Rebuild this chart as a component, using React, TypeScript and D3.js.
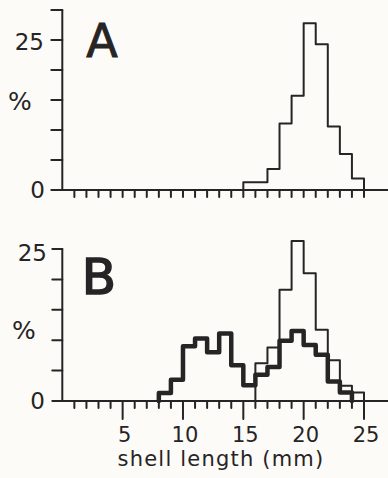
import { useMemo } from "react";
import * as d3 from "d3";

// ---------------------------------------------------------------------------
// Data (shell length histograms, % per 1 mm class)
// ---------------------------------------------------------------------------

// Panel A: first bin edge in mm, then % per 1 mm bin
const A_START = 15;
const A_PCT = [1.3, 1.3, 3.5, 11.1, 15.7, 27.8, 24.3, 10.6, 6.0, 1.9];

// Panel B thin line
const B_THIN_START = 16;
const B_THIN_PCT = [6.2, 8.8, 18.3, 26.3, 21.0, 11.7, 6.7, 2.5, 1.4];

// Panel B thick line
const B_THICK_START = 8;
const B_THICK_PCT = [
  1.3, 3.5, 9.0, 10.3, 8.0, 11.1, 5.9, 2.6, 4.3, 5.6, 9.9, 11.5, 9.2, 7.6, 3.2,
  1.4,
];

const X_TICKS_MINOR = d3.range(1, 26);
const X_TICK_LABELS = [5, 10, 15, 20, 25];
const A_Y_TICKS = [0, 5, 10, 15, 20, 25, 30];
const B_Y_TICKS = [0, 5, 10, 15, 20, 25];

// ---------------------------------------------------------------------------
// Style
// ---------------------------------------------------------------------------

const INK = "#262424";
const BG = "#fdfbf8";
const FONT = "'DejaVu Sans', Verdana, sans-serif";
const W = 388;
const H = 478;

type Pt = { x: number; y: number };

function binsToPoints(start: number, pct: number[]): Pt[] {
  const pts: Pt[] = [{ x: start, y: 0 }];
  pct.forEach((v, i) => pts.push({ x: start + i, y: v }));
  pts.push({ x: start + pct.length, y: 0 });
  return pts;
}

export default function App() {
  const x = useMemo(() => d3.scaleLinear().domain([0, 25]).range([62.3, 364]), []);
  const yA = useMemo(() => d3.scaleLinear().domain([0, 30]).range([190, 10]), []);
  const yB = useMemo(() => d3.scaleLinear().domain([0, 25]).range([401, 249]), []);

  const stepA = d3
    .line<Pt>()
    .x((d) => x(d.x))
    .y((d) => yA(d.y))
    .curve(d3.curveStepAfter);
  const stepB = d3
    .line<Pt>()
    .x((d) => x(d.x))
    .y((d) => yB(d.y))
    .curve(d3.curveStepAfter);

  const x0 = x(0);

  return (
    <svg
      width={W}
      height={H}
      style={{ position: "absolute", left: 0, top: 0, background: BG }}
      fontFamily={FONT}
    >
      <rect width={W} height={H} fill={BG} />

      {/* ---------------- Panel A ---------------- */}
      <g stroke={INK} strokeWidth={2} fill="none" strokeLinecap="round">
        <line x1={x0} x2={x0} y1={yA(30)} y2={yA(0)} />
        {A_Y_TICKS.map((t) => (
          <line key={t} x1={x0 - 11} x2={x0} y1={yA(t)} y2={yA(t)} />
        ))}
        <line x1={x0 - 8} x2={W} y1={yA(0)} y2={yA(0)} />
        {X_TICKS_MINOR.map((t) => (
          <line key={t} x1={x(t)} x2={x(t)} y1={yA(0)} y2={yA(0) + 7} />
        ))}
        <path
          d={stepA(binsToPoints(A_START, A_PCT)) ?? ""}
          strokeLinejoin="round"
          strokeWidth={2}
        />
      </g>
      <text x={44} y={yA(25) + 2} textAnchor="end" dominantBaseline="central" fontSize={23} fill={INK}>
        25
      </text>
      <text x={45} y={yA(0)} textAnchor="end" dominantBaseline="central" fontSize={23} fill={INK}>
        0
      </text>
      <text x={20} y={110} textAnchor="middle" fontSize={25} fill={INK}>
        %
      </text>
      <text x={102} y={57} textAnchor="middle" fontSize={46} fill={INK} stroke={INK} strokeWidth={1}>
        A
      </text>

      {/* ---------------- Panel B ---------------- */}
      <g stroke={INK} strokeWidth={2} fill="none" strokeLinecap="round">
        <line x1={x0} x2={x0} y1={yB(25)} y2={yB(0)} />
        {B_Y_TICKS.map((t) => (
          <line key={t} x1={x0 - 10} x2={x0} y1={yB(t)} y2={yB(t)} />
        ))}
        <line x1={x0 - 8} x2={W} y1={yB(0)} y2={yB(0)} />
        {X_TICKS_MINOR.map((t) => (
          <line
            key={t}
            x1={x(t)}
            x2={x(t)}
            y1={yB(0)}
            y2={yB(0) + (t % 5 === 0 ? 18 : 7)}
          />
        ))}
        <path
          d={stepB(binsToPoints(B_THIN_START, B_THIN_PCT)) ?? ""}
          strokeLinejoin="round"
          strokeWidth={2}
        />
        <path
          d={stepB(binsToPoints(B_THICK_START, B_THICK_PCT)) ?? ""}
          strokeLinejoin="round"
          strokeWidth={4.5}
        />
      </g>
      <text x={47} y={yB(25) + 4} textAnchor="end" dominantBaseline="central" fontSize={23} fill={INK}>
        25
      </text>
      <text x={45} y={yB(0)} textAnchor="end" dominantBaseline="central" fontSize={23} fill={INK}>
        0
      </text>
      <text x={24} y={339} textAnchor="middle" fontSize={25} fill={INK}>
        %
      </text>
      <text x={99} y={294} textAnchor="middle" fontSize={50} fill={INK} stroke={INK} strokeWidth={1.6}>
        B
      </text>

      {/* X tick labels and title */}
      {X_TICK_LABELS.map((t) => (
        <text key={t} x={x(t) + 2} y={442} textAnchor="middle" fontSize={21} fill={INK}>
          {t}
        </text>
      ))}
      <text x={221} y={466} textAnchor="middle" fontSize={21} letterSpacing={1.2} fill={INK}>
        shell length (mm)
      </text>
    </svg>
  );
}
